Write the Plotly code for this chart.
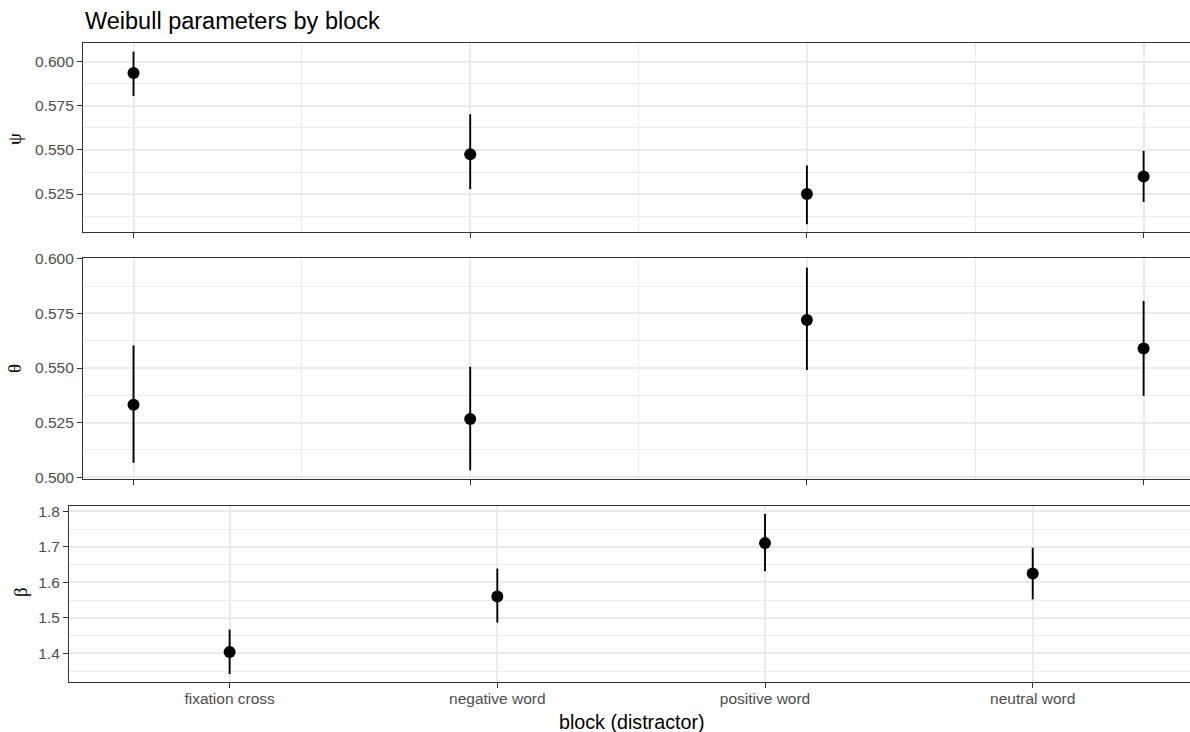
import plotly.graph_objects as go

blocks = ["fixation cross", "negative word", "positive word", "neutral word"]
block_idx = [1, 2, 3, 4]

psi_est = [0.5936, 0.5476, 0.5250, 0.5350]
psi_lo = [0.5806, 0.5278, 0.5079, 0.5205]
psi_hi = [0.6057, 0.5702, 0.5412, 0.5495]

theta_est = [0.5332, 0.5267, 0.5720, 0.5590]
theta_lo = [0.5066, 0.5032, 0.5491, 0.5373]
theta_hi = [0.5604, 0.5506, 0.5960, 0.5807]

beta_est = [1.404, 1.5605, 1.7105, 1.625]
beta_lo = [1.342, 1.4867, 1.6313, 1.5522]
beta_hi = [1.467, 1.639, 1.7927, 1.6976]

W, H = 1190, 732
FONT = "Liberation Sans, Arial, sans-serif"
GRID = "#EBEBEB"
AX = "#333333"
TICKC = "#4D4D4D"


def px_x(p):
    return p / W


def px_y(p):
    return 1 - p / H


fig = go.Figure()


def add_panel(x, est, lo, hi, xa, ya):
    fig.add_trace(go.Scatter(
        x=x, y=est, mode="markers", xaxis=xa, yaxis=ya,
        marker=dict(color="black", size=12),
        error_y=dict(type="data", symmetric=False,
                     array=[h - e for h, e in zip(hi, est)],
                     arrayminus=[e - l for e, l in zip(est, lo)],
                     width=0, thickness=1.9, color="black"),
        showlegend=False, hoverinfo="skip"))


add_panel(block_idx, psi_est, psi_lo, psi_hi, "x", "y")
add_panel(block_idx, theta_est, theta_lo, theta_hi, "x2", "y2")
add_panel(blocks, beta_est, beta_lo, beta_hi, "x3", "y3")

common_x = dict(showline=True, mirror=True, linecolor=AX, linewidth=1.1,
                ticks="outside", ticklen=5, tickcolor=AX, tickwidth=1.1,
                showgrid=True, gridcolor=GRID, gridwidth=1.7, zeroline=False,
                automargin=False,
                tickfont=dict(family=FONT, size=15.5, color=TICKC))
common_y = dict(showline=True, mirror=False, linecolor=AX, linewidth=1.1,
                ticks="outside", ticklen=5, tickcolor=AX, tickwidth=1.1,
                showgrid=True, gridcolor=GRID, gridwidth=1.7, zeroline=False,
                automargin=False,
                tickfont=dict(family=FONT, size=15.5, color=TICKC))

top_xrange = [0.85, 0.85 + (W - 83) / 336.7]
bot_xrange = [-0.6, (W - 69) / 267.7 - 0.6]

fig.update_layout(
    width=W, height=H,
    margin=dict(l=0, r=0, t=0, b=0, pad=0, autoexpand=False),
    paper_bgcolor="white", plot_bgcolor="white",
    xaxis=dict(common_x, domain=[px_x(83), 1], range=top_xrange,
               tickvals=block_idx, showticklabels=False, anchor="y",
               minor=dict(showgrid=True, dtick=1, tick0=0.5, gridcolor=GRID, gridwidth=0.8, ticks="")),
    yaxis=dict(common_y, domain=[px_y(232), px_y(43)], range=[0.5035, 0.6106],
               tickvals=[0.525, 0.55, 0.575, 0.6], ticktext=["0.525", "0.550", "0.575", "0.600"],
               anchor="x",
               minor=dict(showgrid=True, tickvals=[0.5125, 0.5375, 0.5625, 0.5875], gridcolor=GRID, gridwidth=0.8, ticks="")),
    xaxis2=dict(common_x, domain=[px_x(83), 1], range=top_xrange,
                tickvals=block_idx, showticklabels=False, anchor="y2",
                minor=dict(showgrid=True, dtick=1, tick0=0.5, gridcolor=GRID, gridwidth=0.8, ticks="")),
    yaxis2=dict(common_y, domain=[px_y(479), px_y(258)], range=[0.4992, 0.6004],
                tickvals=[0.5, 0.525, 0.55, 0.575, 0.6],
                ticktext=["0.500", "0.525", "0.550", "0.575", "0.600"], anchor="x2",
                minor=dict(showgrid=True, tickvals=[0.5125, 0.5375, 0.5625, 0.5875], gridcolor=GRID, gridwidth=0.8, ticks="")),
    xaxis3=dict(common_x, domain=[px_x(69), 1], range=bot_xrange,
                type="category", categoryorder="array", categoryarray=blocks,
                anchor="y3", ticklabelstandoff=-3),
    yaxis3=dict(common_y, domain=[px_y(682), px_y(506)], range=[1.3195, 1.815],
                tickvals=[1.4, 1.5, 1.6, 1.7, 1.8], ticktext=["1.4", "1.5", "1.6", "1.7", "1.8"],
                anchor="x3",
                minor=dict(showgrid=True, tickvals=[1.35, 1.45, 1.55, 1.65, 1.75], gridcolor=GRID, gridwidth=0.8, ticks="")),
)

annots = [
    dict(text="Weibull parameters by block", x=px_x(83), y=px_y(21), xanchor="left", yanchor="middle",
         font=dict(family=FONT, size=23.5, color="black")),
    dict(text="ψ", x=px_x(15), y=px_y(139), textangle=-90, xanchor="center", yanchor="middle",
         font=dict(family="Liberation Serif, serif", size=19, color="black")),
    dict(text="θ", x=px_x(15), y=px_y(369), textangle=-90, xanchor="center", yanchor="middle",
         font=dict(family="Liberation Serif, serif", size=19, color="black")),
    dict(text="β", x=px_x(20), y=px_y(592), textangle=-90, xanchor="center", yanchor="middle",
         font=dict(family="Liberation Serif, serif", size=19, color="black")),
    dict(text="block (distractor)", x=px_x(631.5), y=px_y(721.5), xanchor="center", yanchor="middle",
         font=dict(family=FONT, size=19.7, color="black")),
]
for a in annots:
    a.update(xref="paper", yref="paper", showarrow=False)
fig.update_layout(annotations=annots)

fig.write_html("out.html")
